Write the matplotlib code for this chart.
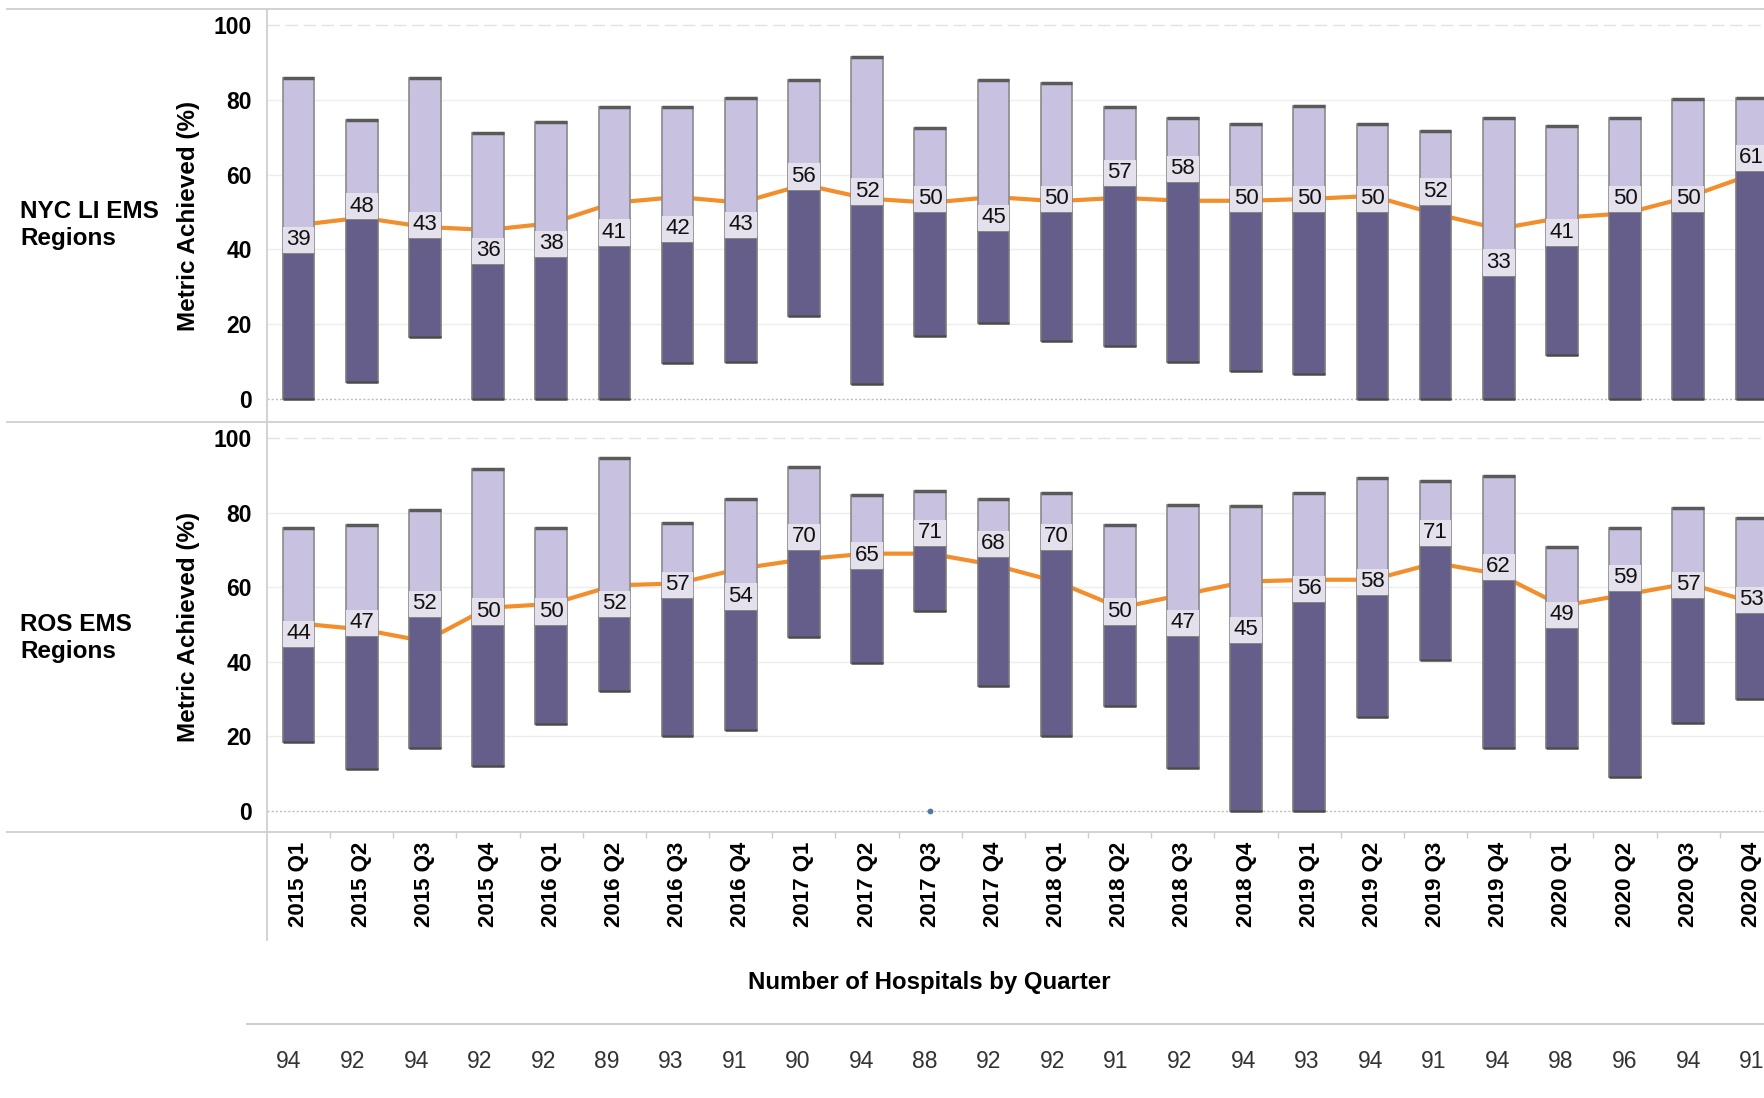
import matplotlib
matplotlib.use("Agg")
import matplotlib.pyplot as plt
from matplotlib.lines import Line2D
import numpy as np

plt.rcParams['font.family'] = ['Liberation Sans', 'DejaVu Sans']

quarters = [f"{y} Q{q}" for y in range(2015, 2021) for q in range(1, 5)]
hospitals = [94, 92, 94, 92, 92, 89, 93, 91, 90, 94, 88, 92,
             92, 91, 92, 94, 93, 94, 91, 94, 98, 96, 94, 91]

# NYC LI EMS Regions: lower quartile, median, upper quartile, mean
nyc_low = [0, 4.5, 16.5, 0, 0, 0, 9.6, 10, 22.2, 4, 16.8, 20.3,
           15.5, 14.3, 10, 7.6, 6.6, 0, 0, 0, 11.7, 0, 0, 0]
nyc_median = [39, 48, 43, 36, 38, 41, 42, 43, 56, 52, 50, 45,
              50, 57, 58, 50, 50, 50, 52, 33, 41, 50, 50, 61]
nyc_high = [85.9, 74.7, 85.9, 71.1, 74, 78, 78, 80.4, 85.3, 91.5, 72.5, 85.3,
            84.4, 78, 75.1, 73.6, 78.4, 73.6, 71.6, 75.1, 73, 75.1, 80.2, 80.5]
nyc_mean = [46.5, 48.5, 46, 45.2, 47, 52.5, 54, 52.5, 57.3, 53.6, 52.5, 54,
            52.9, 53.8, 53, 53, 53.5, 54.3, 49.5, 45.5, 48.5, 49.6, 54, 60]

# ROS EMS Regions
ros_low = [18.5, 11.2, 17, 12.1, 23.3, 32.2, 20.1, 21.7, 46.6, 39.6, 53.5, 33.6,
           20.1, 28.2, 11.6, 0, 0, 25.1, 40.6, 17, 17, 9.1, 23.5, 30]
ros_median = [44, 47, 52, 50, 50, 52, 57, 54, 70, 65, 71, 68,
              70, 50, 47, 45, 56, 58, 71, 62, 49, 59, 57, 53]
ros_high = [75.8, 76.7, 80.8, 91.8, 75.8, 94.6, 77.2, 83.7, 92.2, 84.8, 85.8, 83.7,
            85.3, 76.7, 82.1, 81.7, 85.3, 89.3, 88.6, 89.7, 70.9, 75.8, 81.2, 78.6]
ros_mean = [50.3, 48.7, 45.5, 54.5, 55.5, 60.5, 61, 65, 67.5, 69, 69, 66,
            61.5, 54.5, 58, 61.5, 62, 62, 66.5, 63.5, 55, 58, 61, 56]

DARK = "#655d8a"
LIGHT = "#c8c2e0"
BOX = "#e4e1ec"
ORANGE = "#f28e2b"

W, H = 1764, 1098
fig = plt.figure(figsize=(W / 100, H / 100), dpi=100)

x = np.arange(len(quarters))
XLIM = (-0.5, 23.2)
BW = 0.5


def draw_panel(ax, low, med, high, mean, ylim):
    low, med, high = np.array(low), np.array(med), np.array(high)
    for v in [20, 40, 60, 80]:
        ax.axhline(v, color="#ededed", lw=1, zorder=0)
    ax.axhline(100, color="#e2e2e2", lw=1, ls=(0, (9, 4)), zorder=0)
    ax.axhline(0, color="#bdbdbd", lw=1, ls=(0, (1.5, 1.5)), zorder=0)
    ax.plot(x, mean, color=ORANGE, lw=3, zorder=2, solid_capstyle="round")
    ax.bar(x, med - low, bottom=low, width=BW, color=DARK,
           edgecolor="#7a7a7a", lw=1.2, zorder=3)
    ax.bar(x, high - med, bottom=med, width=BW, color=LIGHT,
           edgecolor="#8a8a8a", lw=1.2, zorder=3)
    ax.hlines(high, x - BW / 2, x + BW / 2, color="#5a5a5a", lw=2.5, zorder=4)
    ax.hlines(low, x - BW / 2, x + BW / 2, color="#4a4a4a", lw=1.8, zorder=4)
    ax.bar(x, 7, bottom=med, width=BW, color=BOX, edgecolor="none", zorder=5)
    for xi, m in zip(x, med):
        ax.text(xi, m + 3.6, f"{m:g}", ha="center", va="center",
                fontsize=16, color="#111111", zorder=6)
    ax.set_xlim(*XLIM)
    ax.set_ylim(*ylim)
    ax.set_yticks([0, 20, 40, 60, 80, 100])
    ax.tick_params(axis="y", length=0, pad=11, labelsize=16.5)
    for t in ax.get_yticklabels():
        t.set_fontweight("bold")
    for s in ax.spines.values():
        s.set_visible(False)
    ax.set_ylabel("Metric Achieved (%)", fontsize=17.5, fontweight="bold")
    ax.yaxis.set_label_coords(-67 / (W - 267), 0.5)


ax_top = fig.add_axes([267 / W, 1 - 422 / H, (W - 267) / W, (422 - 9) / H])
ax_bot = fig.add_axes([267 / W, 1 - 832 / H, (W - 267) / W, (832 - 422) / H])

draw_panel(ax_top, nyc_low, nyc_median, nyc_high, nyc_mean, (-6.15, 104.28))
draw_panel(ax_bot, ros_low, ros_median, ros_high, ros_mean, (-5.63, 104.29))
ax_bot.scatter([10], [0], s=10, color="#4e79a7", zorder=6)

ax_top.set_xticks([])
ax_bot.set_xticks(x)
ax_bot.set_xticklabels(quarters, rotation=90, fontsize=16, fontweight="bold")
ax_bot.tick_params(axis="x", which="major", length=0, pad=7)
ax_bot.set_xticks(x[:-1] + 0.5, minor=True)
ax_bot.tick_params(axis="x", which="minor", length=4, color="#cccccc", width=1)

# hospitals row
ax_h = fig.add_axes([267 / W, 0, (W - 267) / W, 74 / H])
ax_h.set_xlim(-0.346, 23.19)
ax_h.set_ylim(0, 1)
ax_h.axis("off")
for xi, n in zip(x, hospitals):
    ax_h.text(xi, 0.49, str(n), ha="center", va="center", fontsize=16.5, color="#333333")

fig.text(929 / W, 1 - 983 / H, "Number of Hospitals by Quarter",
         ha="center", va="center", fontsize=17.3, fontweight="bold")
fig.text(20 / W, 1 - 225 / H, "NYC LI EMS\nRegions", ha="left", va="center",
         fontsize=17.5, fontweight="bold")
fig.text(20 / W, 1 - 638 / H, "ROS EMS\nRegions", ha="left", va="center",
         fontsize=17.5, fontweight="bold")

# frame lines
for py in [9, 422, 832]:
    fig.add_artist(Line2D([7 / W, 1], [1 - py / H] * 2, color="#cfcfcf", lw=1.3))
fig.add_artist(Line2D([267 / W] * 2, [1 - 9 / H, 1 - 940 / H], color="#cfcfcf", lw=1.3))
fig.add_artist(Line2D([247 / W, 1], [1 - 1024 / H] * 2, color="#cfcfcf", lw=1.5))

fig.savefig("out.png", dpi=100)
